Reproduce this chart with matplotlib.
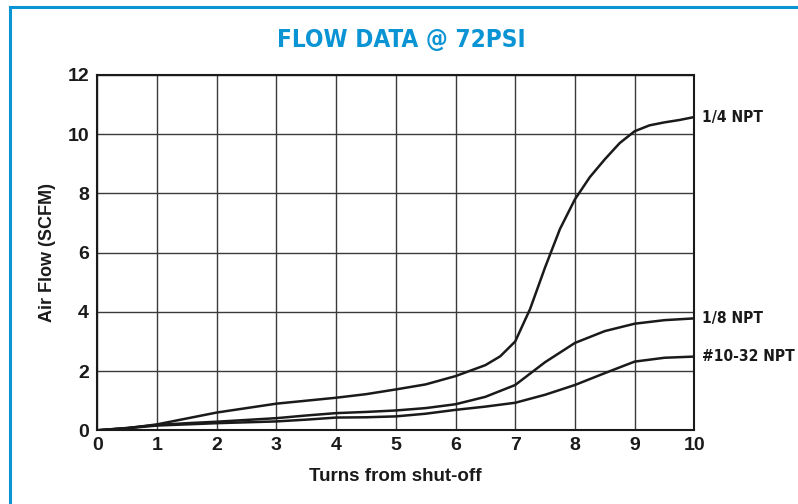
import matplotlib
matplotlib.use('Agg')
import matplotlib.pyplot as plt
from matplotlib.patches import Rectangle

# Turns from shut-off
turns_14 = [0, 0.5, 1, 1.5, 2, 2.5, 3, 3.5, 4, 4.5, 5, 5.5, 6, 6.5, 6.75, 7,
            7.25, 7.5, 7.75, 8, 8.25, 8.5, 8.75, 9, 9.25, 9.5, 9.75, 10]
flow_14 = [0, 0.07, 0.2, 0.4, 0.6, 0.75, 0.9, 1.0, 1.1, 1.22, 1.38, 1.55, 1.83,
           2.2, 2.5, 3.0, 4.1, 5.5, 6.8, 7.8, 8.55, 9.15, 9.7, 10.1, 10.3,
           10.4, 10.48, 10.58]

turns = [0, 0.5, 1, 1.5, 2, 2.5, 3, 3.5, 4, 4.5, 5, 5.5, 6, 6.5, 7, 7.5,
         8, 8.5, 9, 9.5, 10]
flow_18 = [0, 0.08, 0.18, 0.24, 0.29, 0.35, 0.41, 0.5, 0.58, 0.62, 0.67, 0.75,
           0.88, 1.13, 1.53, 2.3, 2.95, 3.35, 3.6, 3.72, 3.78]
flow_1032 = [0, 0.07, 0.16, 0.2, 0.24, 0.27, 0.3, 0.36, 0.43, 0.44, 0.47, 0.56,
             0.69, 0.8, 0.93, 1.2, 1.53, 1.93, 2.32, 2.45, 2.49]

series_labels = ['1/4 NPT', '1/8 NPT', '#10-32 NPT']
x_ticks = list(range(0, 11))
y_ticks = [0, 2, 4, 6, 8, 10, 12]

blue = '#0a94d4'
ink = '#1a1a1a'
plt.rcParams['font.family'] = ['Liberation Sans', 'DejaVu Sans']

fig = plt.figure(figsize=(7.98, 5.04), dpi=100)

# Blue frame around the panel
fig.patches.append(Rectangle((10 / 798, -0.05), 1.2, (504 - 7) / 504 + 0.05,
                             transform=fig.transFigure, fill=False,
                             edgecolor=blue, linewidth=2.2))

ax = fig.add_axes([97.3 / 798, (504 - 430.3) / 504,
                   (694.3 - 97.3) / 798, (430.3 - 75) / 504])

for y in [flow_18, flow_1032]:
    ax.plot(turns, y, color=ink, linewidth=1.8)
ax.plot(turns_14, flow_14, color=ink, linewidth=1.8)

ax.set_xlim(0, 10)
ax.set_ylim(0, 12)
ax.set_xticks(x_ticks)
ax.set_yticks(y_ticks)
ax.grid(True, color='#3a3a3a', linewidth=1.0)
ax.tick_params(length=0, labelsize=14)
ax.tick_params(axis='x', pad=5)
ax.tick_params(axis='y', pad=6)
for lab in ax.get_xticklabels() + ax.get_yticklabels():
    lab.set_fontweight('bold')
    lab.set_color(ink)
for s in ax.spines.values():
    s.set_linewidth(1.5)
    s.set_color(ink)

ax.set_xlabel('Turns from shut-off', fontsize=13.5, fontweight='bold',
              color=ink, labelpad=10)
ax.set_ylabel('Air Flow (SCFM)', fontsize=13, fontweight='bold',
              color=ink, labelpad=8)

# Series labels at the right end of each curve
ends = [flow_14[-1], flow_18[-1], flow_1032[-1]]
for name, yv in zip(series_labels, ends):
    ax.annotate(name, xy=(10, yv), xytext=(5.5, 0), textcoords='offset points',
                ha='left', va='center', fontsize=11.2, fontweight='bold',
                family='DejaVu Sans', fontstretch='condensed', color=ink,
                annotation_clip=False)

fig.text(401 / 798, 1 - 40 / 504, 'FLOW DATA @ 72PSI', ha='center',
         va='center', fontsize=17.5, fontweight='bold', family='DejaVu Sans',
         fontstretch='condensed', color=blue)

fig.savefig('out.png', dpi=100)
